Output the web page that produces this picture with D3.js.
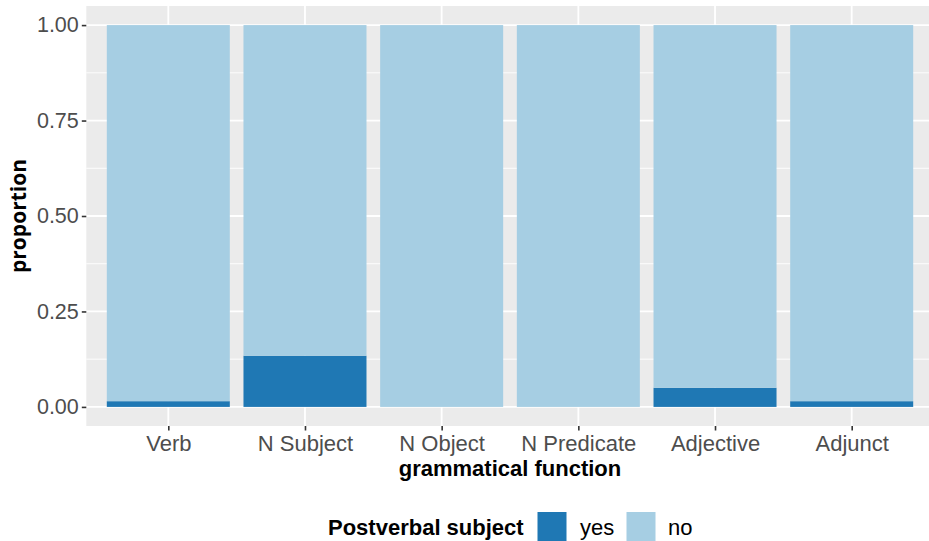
<!DOCTYPE html>
<html>
<head>
<meta charset="utf-8">
<script src="https://cdn.jsdelivr.net/npm/d3@7"></script>
<style>
  html, body { margin: 0; padding: 0; background: #fff; }
  svg { display: block; }
</style>
</head>
<body>
<svg id="chart" width="929" height="541"></svg>
<script>
const categories = ["Verb", "N Subject", "N Object", "N Predicate", "Adjective", "Adjunct"];
const yesValues = [0.015, 0.134, 0, 0, 0.05, 0.015];
const noValues = yesValues.map(v => 1 - v);
const seriesNames = ["yes", "no"];
const seriesColors = ["#1F78B4", "#A6CEE3"];
const yTicks = [0, 0.25, 0.5, 0.75, 1.0];
const yMinor = [0.125, 0.375, 0.625, 0.875];
const legendTitle = "Postverbal subject";
const xTitle = "grammatical function";
const yTitle = "proportion";

const svg = d3.select("#chart");
const panel = { left: 86.3, top: 6, right: 933.7, bottom: 426 };

const xc = d3.scaleLinear().domain([0.4, categories.length + 0.6]).range([panel.left, panel.right]);
const x = d => xc(categories.indexOf(d) + 1);
const unit = xc(2) - xc(1);
const barW = unit * 0.9;

const y = d3.scaleLinear().domain([-0.05, 1.05]).range([panel.bottom, panel.top]);

svg.append("rect").attr("x", panel.left).attr("y", panel.top)
  .attr("width", panel.right - panel.left).attr("height", panel.bottom - panel.top)
  .attr("fill", "#EBEBEB");

const grid = svg.append("g");
grid.selectAll(".minor").data(yMinor).enter().append("line")
  .attr("x1", panel.left).attr("x2", panel.right)
  .attr("y1", d => y(d)).attr("y2", d => y(d))
  .attr("stroke", "#fff").attr("stroke-width", 0.9);
grid.selectAll(".major").data(yTicks).enter().append("line")
  .attr("x1", panel.left).attr("x2", panel.right)
  .attr("y1", d => y(d)).attr("y2", d => y(d))
  .attr("stroke", "#fff").attr("stroke-width", 1.8);
grid.selectAll(".vmajor").data(categories).enter().append("line")
  .attr("x1", d => x(d)).attr("x2", d => x(d))
  .attr("y1", panel.top).attr("y2", panel.bottom)
  .attr("stroke", "#fff").attr("stroke-width", 1.8);

const rows = categories.map((c, i) => ({ cat: c, yes: yesValues[i], no: noValues[i] }));
const stack = d3.stack().keys(seriesNames)(rows);
const color = d3.scaleOrdinal().domain(seriesNames).range(seriesColors);
svg.append("g").selectAll("g").data(stack).enter().append("g")
  .attr("fill", d => color(d.key))
  .selectAll("rect").data(d => d).enter().append("rect")
  .attr("x", d => x(d.data.cat) - barW / 2)
  .attr("width", barW)
  .attr("y", d => y(d[1]))
  .attr("height", d => Math.max(0, y(d[0]) - y(d[1])));

const yAxis = d3.axisLeft(y).tickValues(yTicks).tickFormat(d3.format(".2f")).tickSize(4.5).tickPadding(3);
const gy = svg.append("g").attr("transform", `translate(${panel.left},0)`).call(yAxis);
gy.select(".domain").remove();
gy.selectAll(".tick line").attr("stroke", "#333333").attr("stroke-width", 1.6);
gy.selectAll(".tick text").attr("fill", "#4D4D4D")
  .style("font-family", "Liberation Sans, Arial, sans-serif").style("font-size", "21.5px");

const xAxis = d3.axisBottom(xc).tickValues(categories.map((c, i) => i + 1))
  .tickFormat(d => categories[d - 1]).tickSize(4.5).tickPadding(4.5);
const gx = svg.append("g").attr("transform", `translate(0,${panel.bottom})`).call(xAxis);
gx.select(".domain").remove();
gx.selectAll(".tick line").attr("stroke", "#333333").attr("stroke-width", 1.6);
gx.selectAll(".tick text").attr("fill", "#4D4D4D")
  .style("font-family", "Liberation Sans, Arial, sans-serif").style("font-size", "22px");

svg.append("text").attr("x", (panel.left + panel.right) / 2).attr("y", 476)
  .attr("text-anchor", "middle").attr("fill", "#000")
  .style("font-family", "Liberation Sans, Arial, sans-serif").style("font-size", "22px").style("font-weight", "bold")
  .text(xTitle);
svg.append("text").attr("transform", "translate(26,216) rotate(-90)")
  .attr("text-anchor", "middle").attr("fill", "#000")
  .style("font-family", "Open Sans, sans-serif").style("font-size", "21px").style("font-weight", "bold")
  .text(yTitle);

const lg = svg.append("g");
lg.append("text").attr("x", 328).attr("y", 535).attr("fill", "#000")
  .style("font-family", "Liberation Sans, Arial, sans-serif").style("font-size", "22px").style("font-weight", "bold")
  .text(legendTitle);
const keyX = [537.5, 626.5];
const labX = [580, 668];
seriesNames.forEach((s, i) => {
  lg.append("rect").attr("x", keyX[i]).attr("y", 512).attr("width", 29).attr("height", 29)
    .attr("fill", color(s));
  lg.append("text").attr("x", labX[i]).attr("y", 535).attr("fill", "#000")
    .style("font-family", "Liberation Sans, Arial, sans-serif").style("font-size", "22px")
    .text(s);
});
</script>
</body>
</html>
